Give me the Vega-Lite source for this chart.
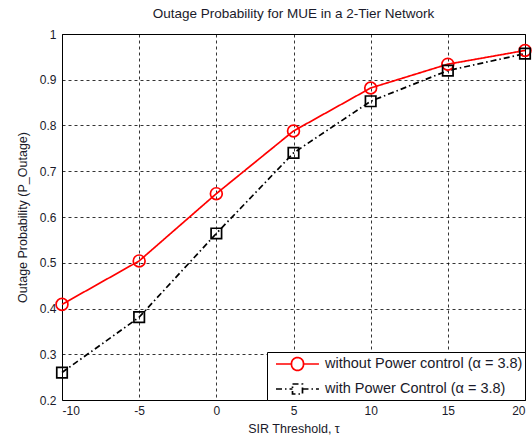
{
  "$schema": "https://vega.github.io/schema/vega-lite/v6.json",
  "autosize": {"type": "none"},
  "width": 463,
  "height": 366,
  "padding": {"left": 62, "top": 34, "right": 7, "bottom": 39},
  "background": "white",
  "title": {"text": "Outage Probability for MUE in a 2-Tier Network", "fontSize": 13.5, "fontWeight": "normal", "font": "Liberation Sans", "color": "#1a1a2a", "offset": 8},
  "config": {
    "font": "Liberation Sans",
    "view": {"stroke": "black", "strokeWidth": 1},
    "axis": {"labelFont": "Liberation Sans", "labelFontSize": 12, "labelColor": "#1a1a2a", "titleFont": "Liberation Sans", "titleFontSize": 12.5, "titleFontWeight": "normal", "titleColor": "#1a1a2a", "grid": true, "gridColor": "black", "gridDash": [3, 3], "gridWidth": 0.8, "gridOpacity": 1, "domain": false, "ticks": false}
  },
  "data": {"values": [
    {"tau": -10, "p": 0.409, "s": "without Power control (α = 3.8)"},
    {"tau": -5, "p": 0.504, "s": "without Power control (α = 3.8)"},
    {"tau": 0, "p": 0.651, "s": "without Power control (α = 3.8)"},
    {"tau": 5, "p": 0.788, "s": "without Power control (α = 3.8)"},
    {"tau": 10, "p": 0.882, "s": "without Power control (α = 3.8)"},
    {"tau": 15, "p": 0.934, "s": "without Power control (α = 3.8)"},
    {"tau": 20, "p": 0.964, "s": "without Power control (α = 3.8)"},
    {"tau": -10, "p": 0.26, "s": "with Power Control (α = 3.8)"},
    {"tau": -5, "p": 0.381, "s": "with Power Control (α = 3.8)"},
    {"tau": 0, "p": 0.564, "s": "with Power Control (α = 3.8)"},
    {"tau": 5, "p": 0.74, "s": "with Power Control (α = 3.8)"},
    {"tau": 10, "p": 0.853, "s": "with Power Control (α = 3.8)"},
    {"tau": 15, "p": 0.92, "s": "with Power Control (α = 3.8)"},
    {"tau": 20, "p": 0.957, "s": "with Power Control (α = 3.8)"}
  ]},
  "encoding": {
    "x": {"field": "tau", "type": "quantitative", "scale": {"domain": [-10, 20], "nice": false, "zero": false}, "axis": {"values": [-10, -5, 0, 5, 10, 15, 20], "labelExpr": "'' + datum.value", "title": "SIR Threshold, τ", "labelPadding": 5, "titlePadding": 6}},
    "y": {"field": "p", "type": "quantitative", "scale": {"domain": [0.2, 1], "nice": false, "zero": false}, "axis": {"values": [0.2, 0.3, 0.4, 0.5, 0.6, 0.7, 0.8, 0.9, 1], "format": "~g", "title": "Outage Probability (P_Outage)", "labelPadding": 6, "titlePadding": 10}}
  },
  "layer": [
    {
      "mark": {"type": "line", "strokeWidth": 1.7},
      "encoding": {
        "color": {"field": "s", "type": "nominal", "scale": {"domain": ["without Power control (α = 3.8)", "with Power Control (α = 3.8)"], "range": ["#ff0000", "#000000"]},
          "legend": {"title": null, "orient": "bottom-right", "offset": 0, "strokeColor": "black", "fillColor": "white", "padding": 2, "labelFontSize": 14.5, "labelFont": "Liberation Sans", "labelColor": "#1a1a2a", "symbolSize": 324, "symbolStrokeWidth": 1.7, "rowPadding": 5, "labelOffset": 36, "labelLimit": 300,
            "encode": {"symbols": {"update": {"shape": {"signal": "indexof(datum.value, 'without') === 0 ? 'M-0.333,0L1.39,0M2.72,0L4.44,0M2.72,0A0.667,0.667 0 1,1 1.39,0A0.667,0.667 0 1,1 2.72,0' : 'M-0.333,0L1.5,0M2.61,0L4.44,0M1.5,-0.556L2.61,-0.556L2.61,0.556L1.5,0.556Z'"}, "fill": {"value": "transparent"}}}}}},
        "strokeDash": {"field": "s", "type": "nominal", "scale": {"domain": ["without Power control (α = 3.8)", "with Power Control (α = 3.8)"], "range": [[1, 0], [6, 3, 1.5, 3]]}}
      }
    },
    {
      "transform": [{"filter": "indexof(datum.s, 'without') === 0"}],
      "mark": {"type": "point", "filled": false, "strokeWidth": 1.7, "opacity": 1, "shape": "circle", "size": 140, "color": "#ff0000"}
    },
    {
      "transform": [{"filter": "indexof(datum.s, 'without') !== 0"}],
      "mark": {"type": "point", "filled": false, "strokeWidth": 1.7, "opacity": 1, "shape": "square", "size": 110, "color": "#000000"}
    }
  ]
}
